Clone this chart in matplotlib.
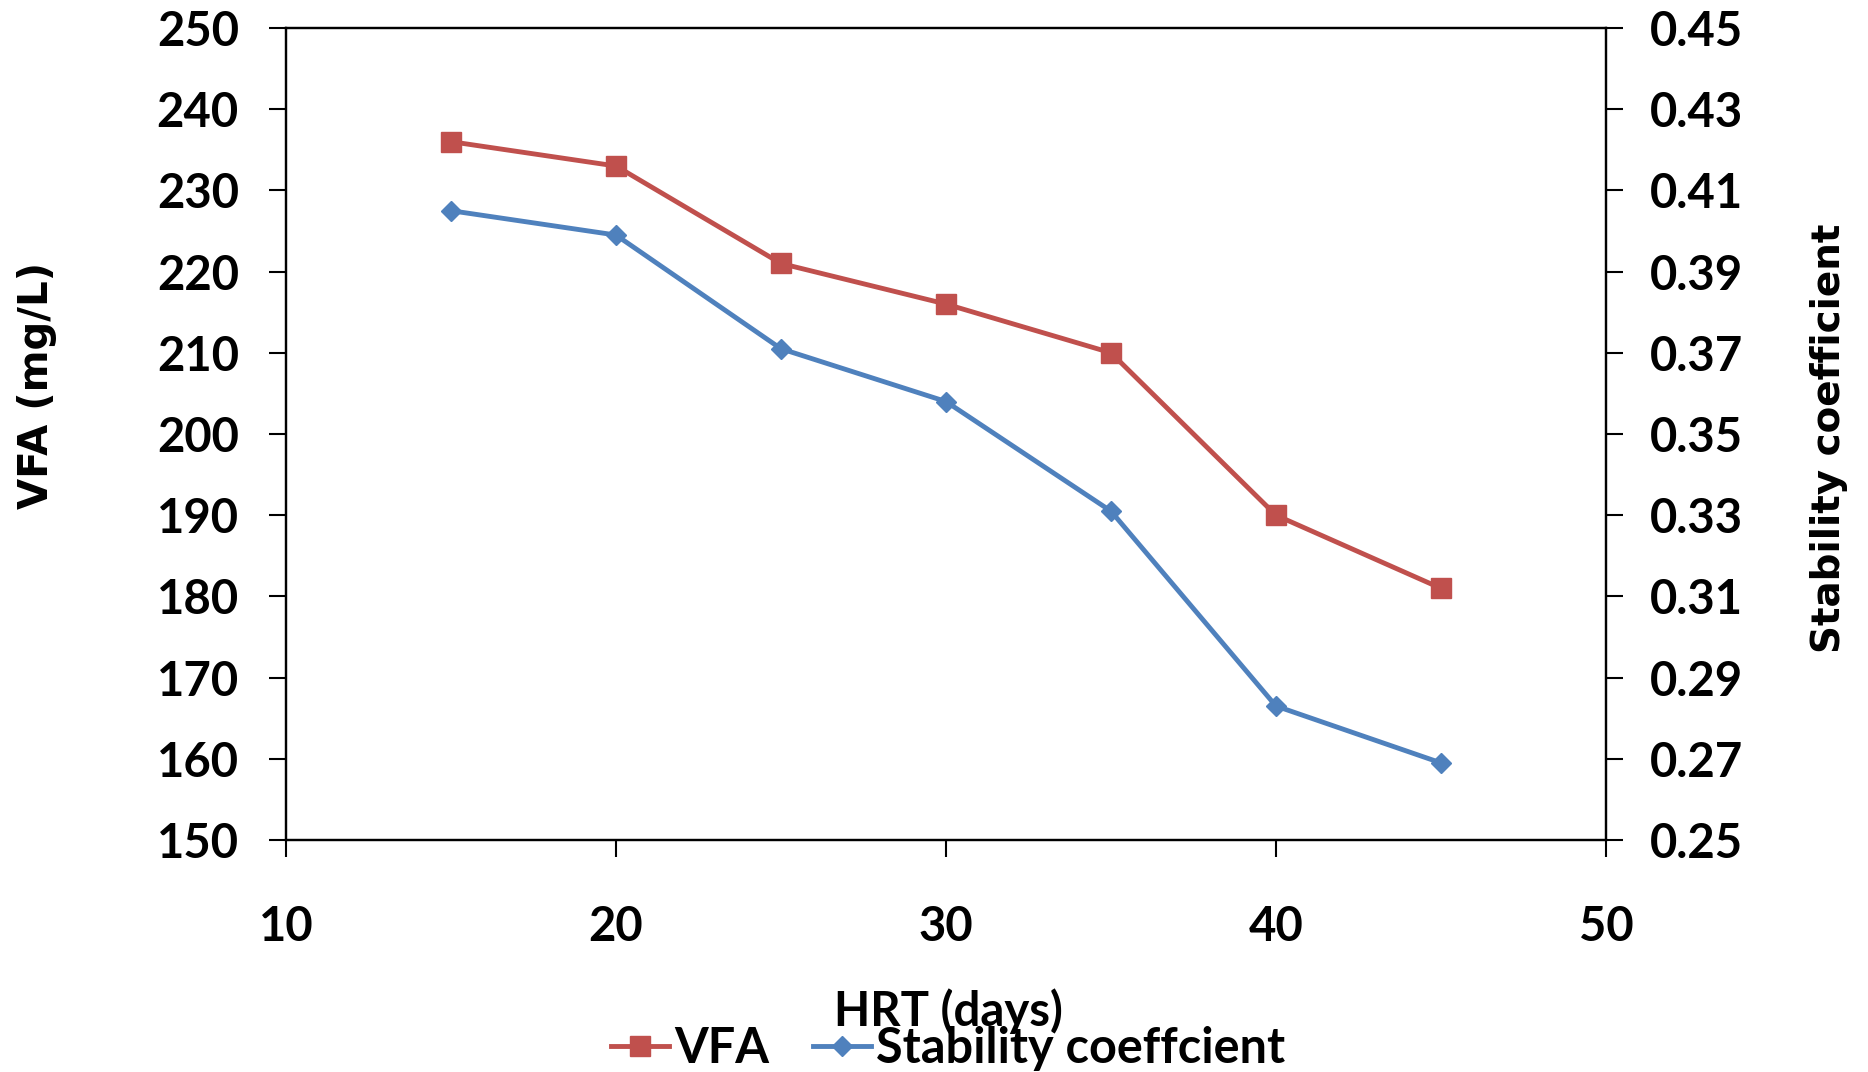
import matplotlib.pyplot as plt
from matplotlib.lines import Line2D

# data
hrt = [15, 20, 25, 30, 35, 40, 45]
vfa = [236, 233, 221, 216, 210, 190, 181]
stability = [0.405, 0.399, 0.371, 0.358, 0.331, 0.283, 0.269]

x_ticks = [10, 20, 30, 40, 50]
vfa_ticks = [150, 160, 170, 180, 190, 200, 210, 220, 230, 240, 250]
stab_ticks = [0.25, 0.27, 0.29, 0.31, 0.33, 0.35, 0.37, 0.39, 0.41, 0.43, 0.45]

RED = "#C0504D"
BLUE = "#4F81BD"
TICK_FONT = "Lato"
LABEL_FONT = "DejaVu Sans"

fig = plt.figure(figsize=(18.68, 10.72), dpi=100)
ax = fig.add_axes([0.1531, 0.2164, 0.7066, 0.7575])
ax2 = ax.twinx()

ax.plot(hrt, vfa, color=RED, linewidth=3.5, marker="s", markersize=14, label="VFA")
ax2.plot(hrt, stability, color=BLUE, linewidth=3.5, marker="D", markersize=10,
         label="Stability coeffcient")

ax.set_xlim(10, 50)
ax.set_ylim(150, 250)
ax2.set_ylim(0.25, 0.45)
ax.set_xticks(x_ticks)
ax.set_yticks(vfa_ticks)
ax2.set_yticks(stab_ticks)
ax.set_xticklabels([str(v) for v in x_ticks])
ax.set_yticklabels([str(v) for v in vfa_ticks])
ax2.set_yticklabels([f"{v:.2f}" for v in stab_ticks])

for a in (ax, ax2):
    for s in a.spines.values():
        s.set_linewidth(1.6)
    for lab in a.get_xticklabels() + a.get_yticklabels():
        lab.set_fontfamily(TICK_FONT)
        lab.set_fontweight("bold")
        lab.set_fontsize(34)

ax.tick_params(axis="x", direction="out", length=12, width=1.5, pad=35)
ax.tick_params(axis="y", direction="out", length=12, width=1.5, pad=22)
ax2.tick_params(axis="y", direction="out", length=12, width=1.5, pad=20)

fig.text(37 / 1868, 1 - 385 / 1072, "VFA (mg/L)", rotation=90, ha="center", va="center",
         fontsize=29, fontweight="bold", family=LABEL_FONT)
fig.text(1829 / 1868, 1 - 438 / 1072, "Stability coefficient", rotation=90, ha="center",
         va="center", fontsize=28, fontweight="bold", family=LABEL_FONT)
fig.text(948 / 1868, 1 - 1011 / 1072, "HRT (days)", ha="center", va="center",
         fontsize=34, fontweight="bold", family=TICK_FONT)

handles = [
    Line2D([], [], color=RED, linewidth=3.5, marker="s", markersize=14),
    Line2D([], [], color=BLUE, linewidth=3.5, marker="D", markersize=10),
]
fig.legend(handles, ["VFA", "Stability coeffcient"], loc="center",
           bbox_to_anchor=(0.5075, 0.022), ncol=2, frameon=False,
           handlelength=1.2, handletextpad=0.1, columnspacing=0.9,
           prop={"family": TICK_FONT, "weight": "bold", "size": 35})

fig.savefig("out.png", dpi=100)
